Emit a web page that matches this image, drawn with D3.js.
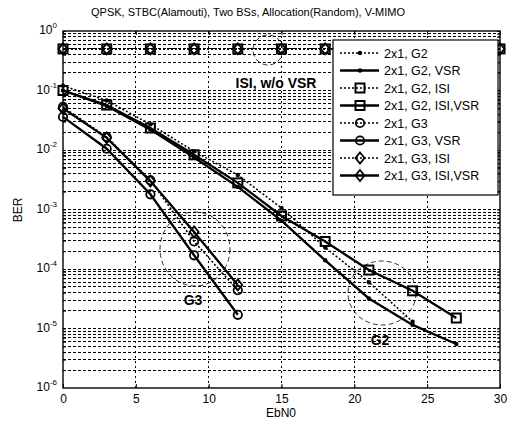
<!DOCTYPE html>
<html>
<head>
<meta charset="utf-8">
<script src="https://cdn.jsdelivr.net/npm/d3@7"></script>
<style>
  body { margin: 0; background: #fff; }
  svg { font-family: "Liberation Sans", Arial, sans-serif; }
</style>
</head>
<body>
<svg id="chart" width="511" height="426"></svg>
<script>
// EbN0 points for each group
const ebn0Isi = [0, 3, 6, 9, 12, 15, 18, 21, 24, 27, 30]
const ebn0G2 = [0, 3, 6, 9, 12, 15, 18, 21, 24, 27]
const ebn0G2Plain = [0, 3, 6, 9, 12, 15, 18, 21, 24]
const ebn0G3 = [0, 3, 6, 9, 12]

// BER
const berG2 = [0.12, 0.068, 0.027, 0.0095, 0.0038, 0.00106, 0.00023, 0.00006, 0.000013]
const berG2Vsr = [0.1, 0.055, 0.022, 0.0075, 0.0024, 0.00065, 0.00014, 0.000032, 0.0000115, 0.0000055]
const berG2Isi = [0.5, 0.5, 0.5, 0.5, 0.5, 0.5, 0.5, 0.5, 0.5, 0.5, 0.5]
const berG2IsiVsr = [0.1, 0.057, 0.0234, 0.0083, 0.0028, 0.00078, 0.00029, 0.000096, 0.000043, 0.000015]
const berG3 = [0.053, 0.0165, 0.0031, 0.00029, 0.000044]
const berG3Vsr = [0.036, 0.0105, 0.0018, 0.00017, 0.000017]
const berG3Isi = [0.5, 0.5, 0.5, 0.5, 0.5, 0.5, 0.5, 0.5, 0.5, 0.5, 0.5]
const berG3IsiVsr = [0.05, 0.016, 0.003, 0.00042, 0.000054]

const seriesNames = ['2x1, G2', '2x1, G2, VSR', '2x1, G2, ISI', '2x1, G2, ISI,VSR',
  '2x1, G3', '2x1, G3, VSR', '2x1, G3, ISI', '2x1, G3, ISI,VSR']
const xTicks = [0, 5, 10, 15, 20, 25, 30]
const yExponents = [0, -1, -2, -3, -4, -5, -6]

const series = [
  { name: seriesNames[0], x: ebn0G2Plain, y: berG2, dash: true, marker: 'dot' },
  { name: seriesNames[1], x: ebn0G2, y: berG2Vsr, dash: false, marker: 'dot' },
  { name: seriesNames[2], x: ebn0Isi, y: berG2Isi, dash: true, marker: 'square' },
  { name: seriesNames[3], x: ebn0G2, y: berG2IsiVsr, dash: false, marker: 'square' },
  { name: seriesNames[4], x: ebn0G3, y: berG3, dash: true, marker: 'circle' },
  { name: seriesNames[5], x: ebn0G3, y: berG3Vsr, dash: false, marker: 'circle' },
  { name: seriesNames[6], x: ebn0Isi, y: berG3Isi, dash: true, marker: 'diamond' },
  { name: seriesNames[7], x: ebn0G3, y: berG3IsiVsr, dash: false, marker: 'diamond' }
]

const plot = { left: 63, right: 500, top: 31, bottom: 388 }
const svg = d3.select('#chart')

const xScale = d3.scaleLinear().domain([0, 30]).range([plot.left, plot.right])
const yScale = d3.scaleLog().domain([1e-6, 1]).range([plot.bottom, plot.top])

svg.append('rect').attr('width', 511).attr('height', 426).attr('fill', '#fff')

// grid
const minorVals = []
for (let k = -6; k < 0; k++) {
  for (let m = 1; m < 10; m++) {
    const v = m * Math.pow(10, k)
    if (v > 1e-6) minorVals.push(v)
  }
}
const grid = svg.append('g').attr('shape-rendering', 'crispEdges')
grid.selectAll('.hgrid')
  .data(minorVals)
  .enter()
  .append('line')
  .attr('x1', plot.left)
  .attr('x2', plot.right)
  .attr('y1', d => yScale(d))
  .attr('y2', d => yScale(d))
  .attr('stroke', '#000')
  .attr('stroke-width', 1)
  .attr('stroke-dasharray', '3,2')
grid.selectAll('.vgrid')
  .data(xTicks.slice(1, -1))
  .enter()
  .append('line')
  .attr('x1', d => xScale(d))
  .attr('x2', d => xScale(d))
  .attr('y1', plot.top)
  .attr('y2', plot.bottom)
  .attr('stroke', '#000')
  .attr('stroke-width', 1)
  .attr('stroke-dasharray', '2,3')

// axes
svg.append('g')
  .attr('transform', 'translate(0,' + plot.bottom + ')')
  .call(d3.axisBottom(xScale).tickValues(xTicks).tickSizeInner(-4).tickSizeOuter(0).tickPadding(6))
  .call(g => g.select('.domain').remove())
  .call(g => g.selectAll('text').attr('font-size', 12).attr('fill', '#000').attr('font-family', null))
svg.append('g')
  .attr('transform', 'translate(0,' + plot.top + ')')
  .call(d3.axisTop(xScale).tickValues(xTicks).tickSizeInner(-4).tickSizeOuter(0).tickFormat(''))
  .call(g => g.select('.domain').remove())

const allLogTicks = minorVals.concat([1])
svg.append('g')
  .attr('transform', 'translate(' + plot.left + ',0)')
  .call(d3.axisLeft(yScale).tickValues(allLogTicks).tickSizeInner(-3).tickSizeOuter(0).tickFormat(''))
  .call(g => g.select('.domain').remove())
svg.append('g')
  .attr('transform', 'translate(' + plot.right + ',0)')
  .call(d3.axisRight(yScale).tickValues(allLogTicks).tickSizeInner(-3).tickSizeOuter(0).tickFormat(''))
  .call(g => g.select('.domain').remove())

const yLabels = svg.append('g')
  .selectAll('text')
  .data(yExponents)
  .enter()
  .append('text')
  .attr('x', plot.left - 6)
  .attr('y', d => yScale(Math.pow(10, d)) + 3)
  .attr('text-anchor', 'end')
  .attr('font-size', 12)
yLabels.append('tspan').text('10')
yLabels.append('tspan').attr('dy', -6).attr('font-size', 8).text(d => d)

svg.append('rect')
  .attr('x', plot.left)
  .attr('y', plot.top)
  .attr('width', plot.right - plot.left)
  .attr('height', plot.bottom - plot.top)
  .attr('fill', 'none')
  .attr('stroke', '#000')
  .attr('stroke-width', 1.4)

// curves
const line = d3.line()
  .x(d => xScale(d[0]))
  .y(d => yScale(d[1]))

function drawMarker(g, type, cx, cy) {
  if (type === 'dot') {
    g.append('circle').attr('cx', cx).attr('cy', cy).attr('r', 2.2).attr('fill', '#000')
  } else if (type === 'square') {
    g.append('rect').attr('x', cx - 4.5).attr('y', cy - 4.5).attr('width', 9).attr('height', 9)
      .attr('fill', 'none').attr('stroke', '#000').attr('stroke-width', 2)
  } else if (type === 'circle') {
    g.append('circle').attr('cx', cx).attr('cy', cy).attr('r', 4.2)
      .attr('fill', 'none').attr('stroke', '#000').attr('stroke-width', 1.8)
  } else {
    g.append('path').attr('d', `M${cx},${cy - 5.5}L${cx + 4.5},${cy}L${cx},${cy + 5.5}L${cx - 4.5},${cy}Z`)
      .attr('fill', 'none').attr('stroke', '#000').attr('stroke-width', 1.8)
  }
}

const curves = svg.append('g')
series.forEach(s => {
  const pts = s.x.map((x, i) => [x, s.y[i]])
  const g = curves.append('g')
  g.append('path')
    .attr('d', line(pts))
    .attr('fill', 'none')
    .attr('stroke', '#000')
    .attr('stroke-width', s.dash ? 1.6 : 2.3)
    .attr('stroke-dasharray', s.dash ? '2,2' : null)
  pts.forEach(p => drawMarker(g, s.marker, xScale(p[0]), yScale(p[1])))
})

// annotations
const notes = svg.append('g').attr('fill', 'none').attr('stroke', '#000')
  .attr('stroke-width', 0.8).attr('stroke-dasharray', '5,3')
notes.append('ellipse').attr('cx', 268).attr('cy', 50).attr('rx', 15).attr('ry', 15)
notes.append('ellipse').attr('cx', 195).attr('cy', 249).attr('rx', 35).attr('ry', 37)
notes.append('ellipse').attr('cx', 382).attr('cy', 293).attr('rx', 34).attr('ry', 32)

svg.append('text').attr('x', 276).attr('y', 88).attr('text-anchor', 'middle')
  .attr('font-size', 14).attr('font-weight', 'bold').text('ISI, w/o VSR')
svg.append('text').attr('x', 193).attr('y', 305).attr('text-anchor', 'middle')
  .attr('font-size', 14).attr('font-weight', 'bold').text('G3')
svg.append('text').attr('x', 380).attr('y', 345).attr('text-anchor', 'middle')
  .attr('font-size', 14).attr('font-weight', 'bold').text('G2')

// legend
const legend = svg.append('g')
legend.append('rect')
  .attr('x', 333).attr('y', 40).attr('width', 165).attr('height', 155)
  .attr('fill', '#fff').attr('stroke', '#000').attr('stroke-width', 1.2)
series.forEach((s, i) => {
  const ly = 53 + i * 17.5
  const g = legend.append('g')
  g.append('line')
    .attr('x1', 340).attr('x2', 379).attr('y1', ly).attr('y2', ly)
    .attr('stroke', '#000')
    .attr('stroke-width', s.dash ? 1.6 : 2.3)
    .attr('stroke-dasharray', s.dash ? '2,2' : null)
  drawMarker(g, s.marker, 360, ly)
  g.append('text').attr('x', 384).attr('y', ly + 4.5).attr('font-size', 12.5).text(s.name)
})

// titles
svg.append('text').attr('x', 248).attr('y', 16).attr('text-anchor', 'middle')
  .attr('font-size', 11).text('QPSK, STBC(Alamouti), Two BSs, Allocation(Random), V-MIMO')
svg.append('text').attr('x', 281).attr('y', 417).attr('text-anchor', 'middle')
  .attr('font-size', 12).text('EbN0')
svg.append('text').attr('transform', 'translate(22,210) rotate(-90)').attr('text-anchor', 'middle')
  .attr('font-size', 12).text('BER')
</script>
</body>
</html>
